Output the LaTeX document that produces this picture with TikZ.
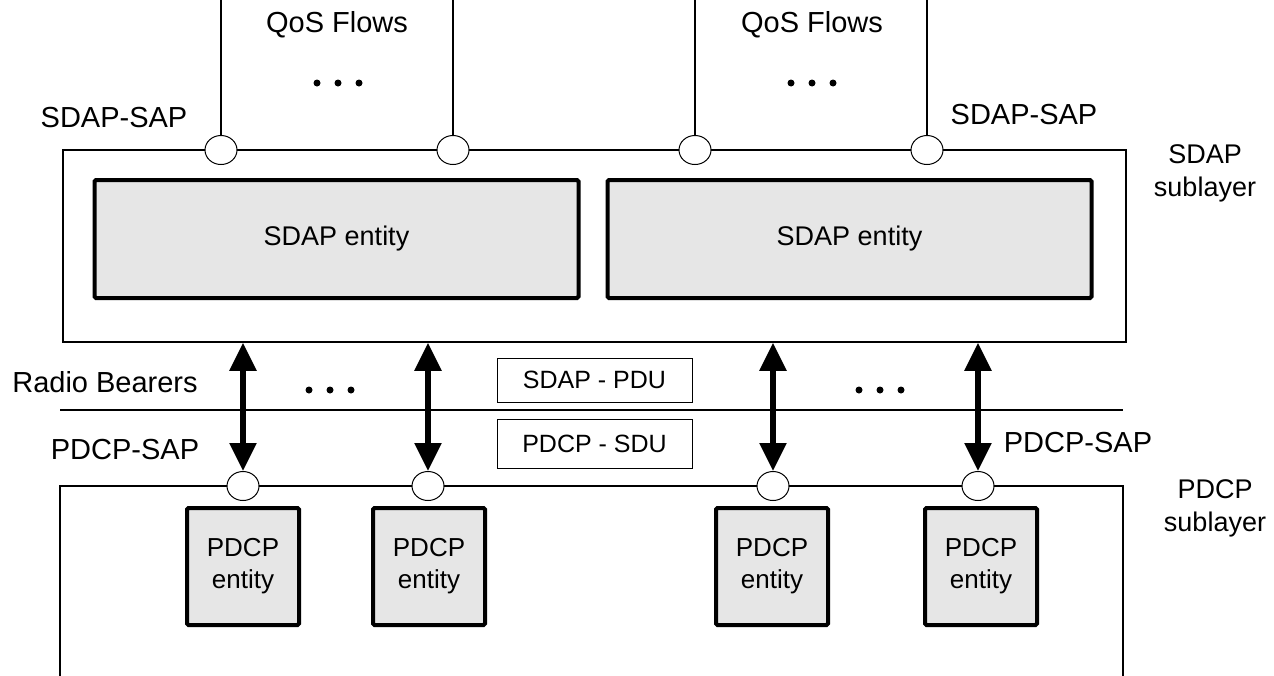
\documentclass[tikz,border=0pt]{standalone}
\usepackage{fontspec}
\setmainfont{Liberation Sans}
\usetikzlibrary{arrows.meta,shapes.geometric}
\definecolor{entfill}{RGB}{230,230,230}
\begin{document}
\begin{tikzpicture}[x=1pt,y=-1pt,
  lbl/.style={font=\fontsize{29}{33}\selectfont, inner sep=0},
  sublbl/.style={font=\fontsize{27}{33}\selectfont, align=center, inner sep=0},
  layer/.style={draw, line width=1.5pt},
  layerbox/.style={draw, line width=1.5pt, inner sep=0},
  sdapent/.style={draw, line width=4pt, rounded corners=1.5pt, fill=entfill, inner sep=0,
     minimum width=484, minimum height=118, font=\fontsize{27}{33}\selectfont},
  pdcpent/.style={draw, line width=4pt, rounded corners=1.5pt, fill=entfill, inner sep=0,
     minimum width=112, minimum height=117, align=center, font=\fontsize{26}{32}\selectfont},
  pdubox/.style={draw, line width=1pt, inner sep=0, minimum width=195, font=\fontsize{25}{30}\selectfont},
  sap/.style={draw, ellipse, line width=1pt, fill=white, inner sep=0, minimum width=32, minimum height=29},
  flow/.style={line width=1.5pt},
  biarrow/.style={line width=5.5pt, {Triangle[width=26pt,length=28pt]}-{Triangle[width=26pt,length=28pt]}},
  dot/.style={fill=black}
]
\useasboundingbox (0,0) rectangle (1274,675);

% SDAP sublayer box
\node[layerbox, minimum width=1063, minimum height=192] (sdapbox) at (594.5,246) {};
\node[sdapent] (sdap1) at (336.5,239) {SDAP entity};
\node[sdapent] (sdap2) at (849.5,239) {SDAP entity};

% PDCP sublayer box (open at bottom)
\draw[layer] (60,690) -- (60,486) -- (1123,486) -- (1123,690);

% radio bearers line
\coordinate (rbL) at (60,410);
\coordinate (rbR) at (1123,410);
\draw[layer] (rbL) -- (rbR);

% QoS flow SAPs
\foreach \i/\x in {1/221,2/453,3/695,4/927}{
  \coordinate (top\i) at (\x,0);
  \node[sap] (ss\i) at (\x,150) {};
  \draw[flow] (top\i) -- (ss\i.north);
}

% PDCP SAPs
\foreach \i/\x in {1/243,2/428,3/773,4/978}{
  \node[sap] (ps\i) at (\x,486) {};
}

% arrows
\foreach \i in {1,...,4}{
  \draw[biarrow] (ps\i.north |- sdapbox.south) -- (ps\i.north);
}

% PDCP entities
\node[pdcpent] (pe1) at (243,566.5) {PDCP\\entity};
\node[pdcpent] (pe2) at (429,566.5) {PDCP\\entity};
\node[pdcpent] (pe3) at (772,566.5) {PDCP\\entity};
\node[pdcpent] (pe4) at (981,566.5) {PDCP\\entity};

% PDU / SDU boxes
\node[pdubox, minimum height=44] (pdu) at (594.5,380) {SDAP - PDU};
\node[pdubox, minimum height=49] (sdu) at (594.5,443.5) {PDCP - SDU};

% labels
\node[lbl] (qos1) at (337,25) {QoS Flows};
\node[lbl] (qos2) at (812,25) {QoS Flows};
\node[lbl] (ssapL) at (114,118) {SDAP-SAP};
\node[lbl] (ssapR) at (1024,115) {SDAP-SAP};
\node[lbl] (rb) at (105,382) {Radio Bearers};
\node[lbl] (psapL) at (125,450) {PDCP-SAP};
\node[lbl] (psapR) at (1078,443) {PDCP-SAP};
\node[sublbl] (sdapsub) at (1205,173) {SDAP\\sublayer};
\node[sublbl] (pdcpsub) at (1215,508) {PDCP\\sublayer};

% dots
\foreach \cx/\cy in {338/83, 812/83, 330/390, 880/390}{
  \foreach \d in {-21,0,21}{
    \fill[dot] (\cx+\d,\cy) circle[radius=3.5];
  }
}
\end{tikzpicture}
\end{document}
